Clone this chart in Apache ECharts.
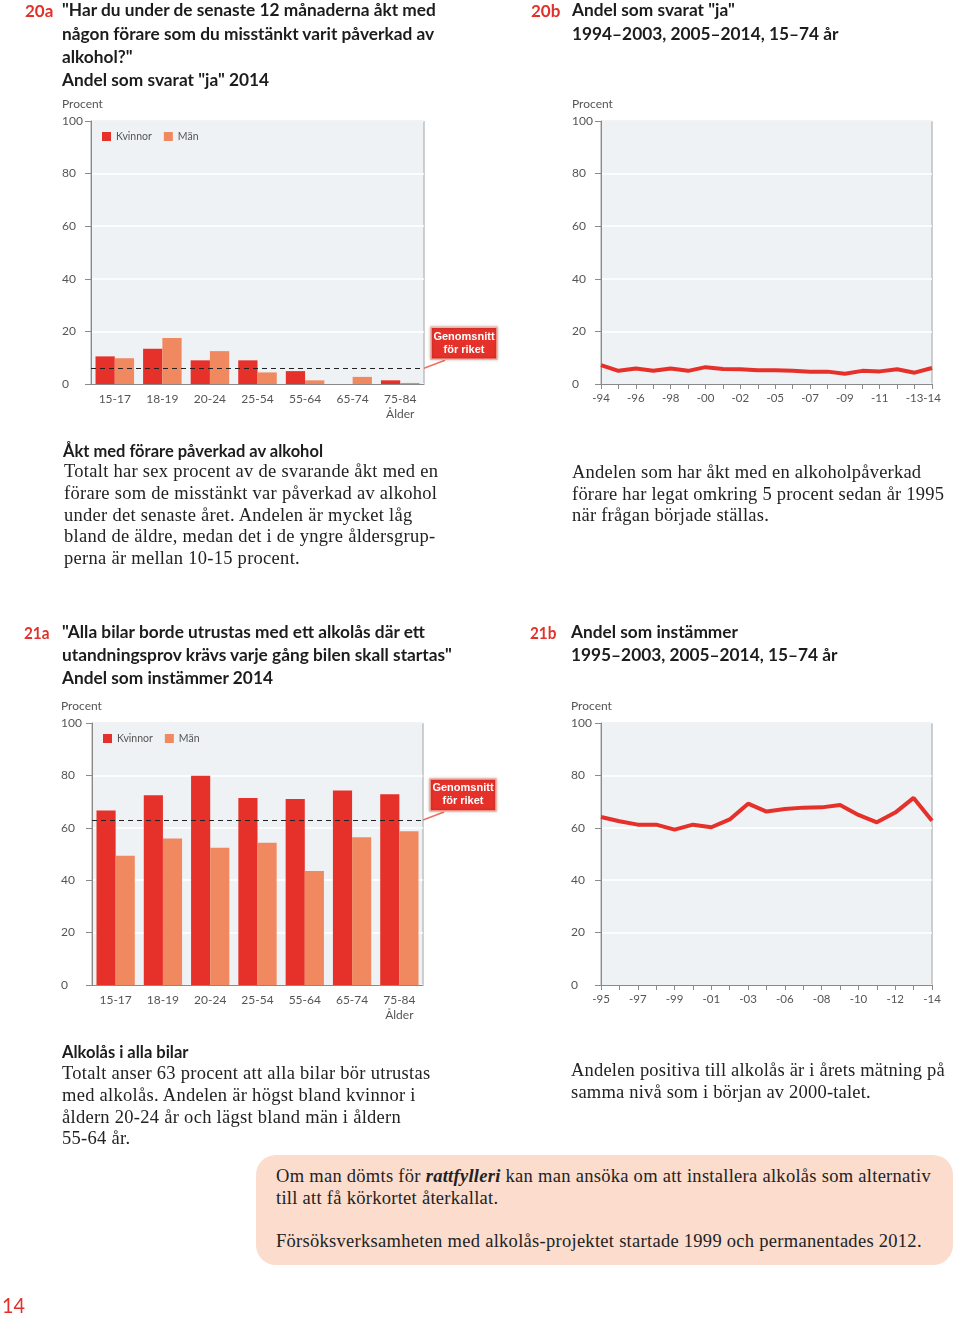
<!DOCTYPE html>
<html>
<head>
<meta charset="utf-8">
<script src="https://cdn.jsdelivr.net/npm/echarts@6/dist/echarts.min.js"></script>
<style>
  html, body { margin:0; padding:0; background:#fff; }
  #page { position:relative; width:960px; height:1319px; overflow:hidden; }
  #chart { position:absolute; left:0; top:0; width:960px; height:1319px; }
  .t { position:absolute; white-space:nowrap; color:#1c1c1c; z-index:2; }
  .num { color:#e2312a; font-family:Lato, sans-serif; font-weight:700; font-size:17px; line-height:23px; }
  .ttl { font-family:Lato, sans-serif; font-weight:700; font-size:17.3px; line-height:23.3px; }
  .cond { transform:scaleX(0.9); transform-origin:0 0; }
  .proc { font-family:Lato, sans-serif; font-size:12px; color:#555; line-height:14px; }
  .hd { font-family:Lato, sans-serif; font-weight:700; font-size:16.5px; line-height:22px; }
  .body { font-family:"Liberation Serif", serif; font-size:18.5px; letter-spacing:0.28px; line-height:21.7px; color:#222; }
  #box { position:absolute; left:256px; top:1155px; width:697px; height:110px; border-radius:20px; background:#fbdccd; z-index:1; }
</style>
</head>
<body>
<div id="page">
  <div id="chart"></div>

  <div class="t num" style="left:25px; top:-1.5px;">20a</div>
  <div class="t ttl" style="left:62px; top:-1.6px;">"Har du under de senaste 12 månaderna åkt med<br>någon förare som du misstänkt varit påverkad av<br>alkohol?"<br>Andel som svarat "ja" 2014</div>
  <div class="t proc" style="left:62px; top:97px;">Procent</div>

  <div class="t num" style="left:531px; top:-1.5px;">20b</div>
  <div class="t ttl" style="left:572px; top:-1.6px;">Andel som svarat "ja"<br>1994–2003, 2005–2014, 15–74 år</div>
  <div class="t proc" style="left:572px; top:97px;">Procent</div>

  <div class="t hd" style="left:63px; top:440px;">Åkt med förare påverkad av alkohol</div>
  <div class="t body" style="left:64px; top:461.2px;">Totalt har sex procent av de svarande åkt med en<br>förare som de misstänkt var påverkad av alkohol<br>under det senaste året. Andelen är mycket låg<br>bland de äldre, medan det i de yngre åldersgrup-<br>perna är mellan 10-15 procent.</div>
  <div class="t body" style="left:572px; top:462.1px; line-height:21.5px; letter-spacing:0.22px;">Andelen som har åkt med en alkoholpåverkad<br>förare har legat omkring 5 procent sedan år 1995<br>när frågan började ställas.</div>

  <div class="t num cond" style="left:24px; top:620.5px;">21a</div>
  <div class="t ttl" style="left:62px; top:620.4px; line-height:23px;">"Alla bilar borde utrustas med ett alkolås där ett<br>utandningsprov krävs varje gång bilen skall startas"<br>Andel som instämmer 2014</div>
  <div class="t proc" style="left:61px; top:699px;">Procent</div>

  <div class="t num cond" style="left:530px; top:620.5px;">21b</div>
  <div class="t ttl" style="left:571px; top:620.4px; line-height:23px;">Andel som instämmer<br>1995–2003, 2005–2014, 15–74 år</div>
  <div class="t proc" style="left:571px; top:699px;">Procent</div>

  <div class="t hd" style="left:62px; top:1041px;">Alkolås i alla bilar</div>
  <div class="t body" style="left:62px; top:1063.1px;">Totalt anser 63 procent att alla bilar bör utrustas<br>med alkolås. Andelen är högst bland kvinnor i<br>åldern 20-24 år och lägst bland män i åldern<br>55-64 år.</div>
  <div class="t body" style="left:571px; top:1060.3px; line-height:21.5px; letter-spacing:0.2px;">Andelen positiva till alkolås är i årets mätning på<br>samma nivå som i början av 2000-talet.</div>

  <div id="box"></div>
  <div class="t body" style="left:276px; top:1166px;">Om man dömts för <b><i>rattfylleri</i></b> kan man ansöka om att installera alkolås som alternativ<br>till att få körkortet återkallat.<br>&nbsp;<br>Försöksverksamheten med alkolås-projektet startade 1999 och permanentades 2012.</div>

  <div class="t cond" style="left:2px; top:1291px; font-family:Lato, sans-serif; font-size:22px; line-height:28px; color:#e2312a;">14</div>
</div>

<script>
// ---------- DATA ----------
var ages = ['15-17', '18-19', '20-24', '25-54', '55-64', '65-74', '75-84'];
var rodeKvinnor = [10.5, 13.4, 9.0, 9.0, 4.9, 0, 1.4];
var rodeMan     = [9.8, 17.5, 12.5, 4.4, 1.4, 2.7, 0.4];
var rodeAvg = 6;

var years20 = ['-94','-95','-96','-97','-98','-99','-00','-01','-02','-03','-05','-06','-07','-08','-09','-10','-11','-12','-13','-14'];
var rodeTrend = [7.2, 5.0, 5.9, 5.0, 5.9, 5.0, 6.4, 5.7, 5.6, 5.2, 5.2, 5.0, 4.7, 4.7, 3.9, 5.0, 4.8, 5.6, 4.3, 6.1];

var lockKvinnor = [66.6, 72.4, 79.9, 71.4, 71.0, 74.2, 72.8];
var lockMan     = [49.3, 55.9, 52.4, 54.3, 43.5, 56.4, 58.7];
var lockAvg = 63;

var years21 = ['-95','-96','-97','-98','-99','-00','-01','-02','-03','-05','-06','-07','-08','-09','-10','-11','-12','-13','-14'];
var lockTrend = [64.1, 62.5, 61.2, 61.2, 59.3, 61.2, 60.2, 63.2, 69.2, 66.2, 67.2, 67.7, 67.8, 68.7, 64.9, 62.1, 65.8, 71.4, 62.7];

var yTicks = { min: 0, max: 100, interval: 20 };
var seriesNames = ['Kvinnor', 'Män'];

// ---------- STYLE ----------
var RED = '#e5312a', SALMON = '#f08960', GREY = '#8a8a8a', TXT = '#555';
var LABEL_FONT = 'Lato, "Open Sans", sans-serif';

var grids = [
  { left: 91,  top: 121, width: 333, height: 263 },
  { left: 601, top: 121, width: 331, height: 263 },
  { left: 92,  top: 723, width: 331, height: 262 },
  { left: 601, top: 723, width: 331, height: 262 }
];
var yMargins = [29, 29, 31, 30];

var chart = echarts.init(document.getElementById('chart'), null, { renderer: 'canvas' });

function gridOpt(g) {
  return Object.assign({ show: true, backgroundColor: '#eef2f4', borderColor: '#a2a2a2', borderWidth: 1, containLabel: false }, g);
}
function yAxisOpt(i) {
  return {
    type: 'value', gridIndex: i, min: yTicks.min, max: yTicks.max, interval: yTicks.interval,
    axisLine: { show: true, lineStyle: { color: GREY, width: 1 } },
    axisTick: { show: true, length: 6, lineStyle: { color: GREY } },
    splitLine: { show: true, lineStyle: { color: '#ffffff', width: 1.5 } },
    axisLabel: { color: TXT, fontFamily: LABEL_FONT, fontSize: 12, align: 'left', margin: yMargins[i] }
  };
}
function barXAxis(i) {
  return {
    type: 'category', gridIndex: i, data: ages, position: 'bottom',
    axisLine: { show: true, lineStyle: { color: GREY } },
    axisTick: { show: false },
    axisLabel: {
      color: TXT, fontFamily: LABEL_FONT, fontSize: 12, margin: 8, interval: 0, lineHeight: 15, hideOverlap: false,
      formatter: function (v, idx) { return idx === ages.length - 1 ? v + '\nÅlder' : v; }
    }
  };
}
// main axis: line, ticks and every second label
function lineXAxis(i, cats) {
  return {
    type: 'category', gridIndex: i, data: cats, boundaryGap: false, position: 'bottom',
    axisLine: { show: true, lineStyle: { color: GREY } },
    axisTick: { show: true, interval: 0, length: 5, lineStyle: { color: GREY } },
    axisLabel: {
      color: TXT, fontFamily: LABEL_FONT, fontSize: 11.5, margin: 8, hideOverlap: false,
      showMinLabel: true, showMaxLabel: true,
      interval: function (idx) { return idx % 2 === 0 && idx !== cats.length - 1; }
    }
  };
}
// companion axis: only the last year label (kept on its own so it is not hidden by its neighbour)
function lastLabelAxis(i, cats) {
  return {
    type: 'category', gridIndex: i, data: cats, boundaryGap: false, position: 'bottom',
    axisLine: { show: false }, axisTick: { show: false }, splitLine: { show: false },
    axisLabel: {
      color: TXT, fontFamily: LABEL_FONT, fontSize: 11.5, margin: 8, hideOverlap: false,
      showMinLabel: true, showMaxLabel: true,
      interval: function (idx) { return idx === cats.length - 1; }
    }
  };
}
function markAvg(v) {
  return {
    silent: true, symbol: 'none', label: { show: false },
    lineStyle: { type: [5, 4], color: '#222', width: 1.2 },
    data: [{ yAxis: v }]
  };
}
function barSeries(name, data, color, idx, avg) {
  var s = {
    type: 'bar', name: name, xAxisIndex: idx, yAxisIndex: idx, data: data,
    itemStyle: { color: color }, barGap: '0%', barCategoryGap: '19%', silent: true
  };
  if (avg !== undefined) s.markLine = markAvg(avg);
  return s;
}
function lineSeries(data, xIdx, yIdx) {
  return {
    type: 'line', xAxisIndex: xIdx, yAxisIndex: yIdx, data: data, symbol: 'none',
    lineStyle: { color: RED, width: 4 }, silent: true
  };
}
function legendOpt(g) {
  return {
    data: seriesNames, left: g.left + 11, top: g.top + 10, padding: 0, itemWidth: 9, itemHeight: 9, itemGap: 12,
    icon: 'rect', selectedMode: false,
    textStyle: { color: TXT, fontFamily: LABEL_FONT, fontSize: 10.5 }
  };
}

chart.setOption({
  animation: false,
  grid: grids.map(gridOpt),
  legend: [legendOpt(grids[0]), legendOpt(grids[2])],
  xAxis: [
    barXAxis(0), lineXAxis(1, years20), barXAxis(2), lineXAxis(3, years21),
    lastLabelAxis(1, years20), lastLabelAxis(3, years21)
  ],
  yAxis: [yAxisOpt(0), yAxisOpt(1), yAxisOpt(2), yAxisOpt(3)],
  series: [
    barSeries(seriesNames[0], rodeKvinnor, RED, 0, rodeAvg),
    barSeries(seriesNames[1], rodeMan, SALMON, 0),
    lineSeries(rodeTrend, 1, 1),
    barSeries(seriesNames[0], lockKvinnor, RED, 2, lockAvg),
    barSeries(seriesNames[1], lockMan, SALMON, 2),
    lineSeries(lockTrend, 3, 3)
  ]
});

// Callouts "Genomsnitt för riket" anchored to the average line of each bar chart
function callout(gridIdx, yAxisIdx, avg) {
  var g = grids[gridIdx];
  var y = chart.convertToPixel({ yAxisIndex: yAxisIdx }, avg);
  var xr = g.left + g.width;
  var bx = xr + 7, bw = 66, bh = 32, by = y - 9 - bh;
  return [
    { type: 'line', shape: { x1: xr, y1: y, x2: xr + 21, y2: y - 8 }, style: { stroke: '#f07060', lineWidth: 1.5 }, z: 10 },
    { type: 'rect', shape: { x: bx, y: by, width: bw, height: bh }, style: { fill: RED, stroke: '#f6b0a0', lineWidth: 1.5, shadowBlur: 3, shadowColor: 'rgba(0,0,0,0.25)' }, z: 11 },
    { type: 'text', x: bx + bw / 2, y: by + bh / 2, style: { text: 'Genomsnitt\nför riket', fill: '#fff', font: 'bold 11px "Liberation Sans", Arial, sans-serif', align: 'center', verticalAlign: 'middle', lineHeight: 13 }, z: 12 }
  ];
}
chart.setOption({ graphic: callout(0, 0, rodeAvg).concat(callout(2, 2, lockAvg)) });
</script>
</body>
</html>
